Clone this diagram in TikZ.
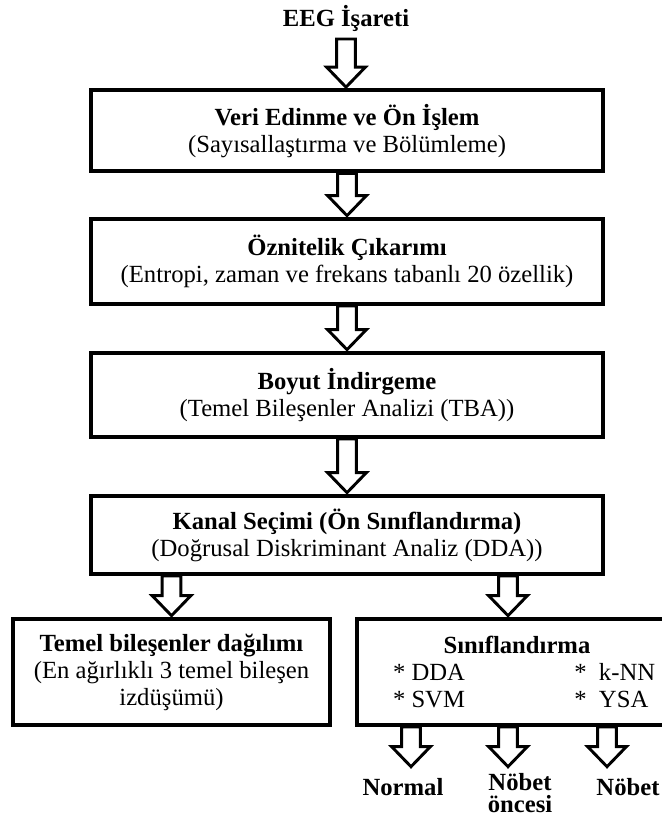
\documentclass[tikz,border=0pt]{standalone}
\usepackage{fontspec}
\setmainfont{Liberation Serif}
\usetikzlibrary{calc}

\tikzset{
  stage/.style={draw=black, line width=3pt, fill=white, align=center, minimum width=384pt},
  hollow/.style={draw=black, line width=2.2pt, fill=white, line join=miter},
  outlab/.style={align=center, inner sep=0pt, font=\fontsize{18.5}{17}\selectfont\bfseries}
}

% hollow block arrow between two points
\newcommand{\hollowarrow}[2]{%
  \draw[hollow] let \p1=(#1), \p2=(#2) in
    (\x1-7pt,\y1) -- (\x1-7pt,\y2+16pt) -- (\x1-14.5pt,\y2+16pt) -- (\x1,\y2+1pt)
    -- (\x1+14.5pt,\y2+16pt) -- (\x1+7pt,\y2+16pt) -- (\x1+7pt,\y1) -- cycle;}

\begin{document}
\begin{tikzpicture}[x=0.75pt, y=-0.75pt, font=\fontsize{18.5}{20.25}\selectfont]
\useasboundingbox (0,0) rectangle (661,823);

% input signal
\node[inner sep=0pt] (eeg) at (346,18) {\textbf{EEG İşareti}};
\coordinate (src) at (346,39);

% main chain
\node[stage, minimum height=60.75pt] (acq) at (347,131)
  {\textbf{Veri Edinme ve Ön İşlem}\\(Sayısallaştırma ve Bölümleme)};
\node[stage, minimum height=63.75pt] (feat) at (347,261.5)
  {\textbf{Öznitelik Çıkarımı}\\(Entropi, zaman ve frekans tabanlı 20 özellik)};
\node[stage, minimum height=63pt] (red) at (347,395)
  {\textbf{Boyut İndirgeme}\\(Temel Bileşenler Analizi (TBA))};
\node[stage, minimum height=58.5pt] (chan) at (347,535)
  {\textbf{Kanal Seçimi (Ön Sınıflandırma)}\\(Doğrusal Diskriminant Analiz (DDA))};

% two branches
\node[stage, minimum width=237.75pt, minimum height=79.5pt] (pca) at (171.5,672)
  {\textbf{Temel bileşenler dağılımı}\\(En ağırlıklı 3 temel bileşen\\izdüşümü)};
\node[stage, minimum width=240pt, minimum height=79.5pt] (cls) at (517,672)
  {\textbf{Sınıflandırma}\\
   \makebox[136pt][l]{* DDA}\makebox[50pt][l]{*\ \ k-NN}\\
   \makebox[136pt][l]{* SVM}\makebox[50pt][l]{*\ \ YSA}};

% outputs
\coordinate (tipN) at (411,768);
\coordinate (tipP) at (508,768);
\coordinate (tipS) at (607,768);
\node[outlab] (normal) at (403,787) {Normal};
\node[outlab] (preict) at (520,793) {Nöbet\\öncesi};
\node[outlab] (ictal) at (628,787) {Nöbet};

% arrows
\hollowarrow{src}{acq.north}
\hollowarrow{acq.south}{feat.north}
\hollowarrow{feat.south}{red.north}
\hollowarrow{red.south}{chan.north}
\hollowarrow{chan.south -| pca.north}{pca.north}
\hollowarrow{chan.south -| tipP}{cls.north -| tipP}
\hollowarrow{cls.south -| tipN}{tipN}
\hollowarrow{cls.south -| tipP}{tipP}
\hollowarrow{cls.south -| tipS}{tipS}
\end{tikzpicture}
\end{document}
